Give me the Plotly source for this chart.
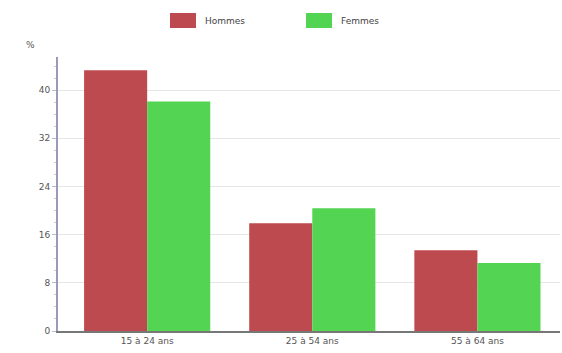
import plotly.graph_objects as go

categories = ["15 à 24 ans", "25 à 54 ans", "55 à 64 ans"]
hommes = [43.3, 17.9, 13.4]
femmes = [38.1, 20.4, 11.3]
y_ticks = [0, 8, 16, 24, 32, 40]

red = "#bd4a4e"
green = "#53d553"
font = dict(family="DejaVu Sans, sans-serif", size=9, color="#555555")

fig = go.Figure()
fig.add_trace(go.Bar(x=list(range(len(categories))), y=hommes, name="Hommes",
                     marker=dict(color=red, line=dict(width=0)), showlegend=False))
fig.add_trace(go.Bar(x=list(range(len(categories))), y=femmes, name="Femmes",
                     marker=dict(color=green, line=dict(width=0)), showlegend=False))

# Plot area spans x 58..560 and y 57..331 (pixels); legend sits above it
PW, PH, PL, PB = 502, 274, 58, 331

legend_items = [("Hommes", red, 170), ("Femmes", green, 306)]
for label, color, px in legend_items:
    fig.add_shape(type="rect", xref="paper", yref="paper",
                  x0=(px - PL) / PW, x1=(px + 26 - PL) / PW,
                  y0=(PB - 28) / PH, y1=(PB - 13) / PH,
                  fillcolor=color, line=dict(width=0))
    fig.add_annotation(text=label, xref="paper", yref="paper",
                       x=(px + 33 - PL) / PW, y=(PB - 20.5) / PH,
                       xanchor="left", yanchor="middle", showarrow=False,
                       font=dict(family="DejaVu Sans, sans-serif", size=9, color="#444444"))

fig.add_annotation(text="%", xref="paper", yref="paper",
                   x=(30 - PL) / PW, y=(PB - 45) / PH,
                   xanchor="center", yanchor="middle", showarrow=False, font=font)

fig.update_layout(
    width=562, height=353,
    margin=dict(l=58, r=2, t=57, b=22),
    paper_bgcolor="white", plot_bgcolor="white",
    barmode="group", bargap=0.236, bargroupgap=0,
    font=font,
    xaxis=dict(
        tickmode="array", tickvals=list(range(len(categories))), ticktext=categories,
        range=[-0.54, 2.5], showgrid=False, showline=True, linecolor="#777777",
        linewidth=2, ticks="", zeroline=False, tickfont=font,
    ),
    yaxis=dict(
        tickmode="array", tickvals=y_ticks, range=[0, 45.5],
        showgrid=True, gridcolor="#e6e6e6", gridwidth=1,
        showline=True, linecolor="#9a9ab8", linewidth=2,
        ticks="outside", ticklen=4, tickcolor="#bbbbcc",
        minor=dict(dtick=2, ticks="outside", ticklen=2, tickcolor="#ccccdd", showgrid=False),
        zeroline=False, tickfont=font,
    ),
)

fig.write_html("out.html")
